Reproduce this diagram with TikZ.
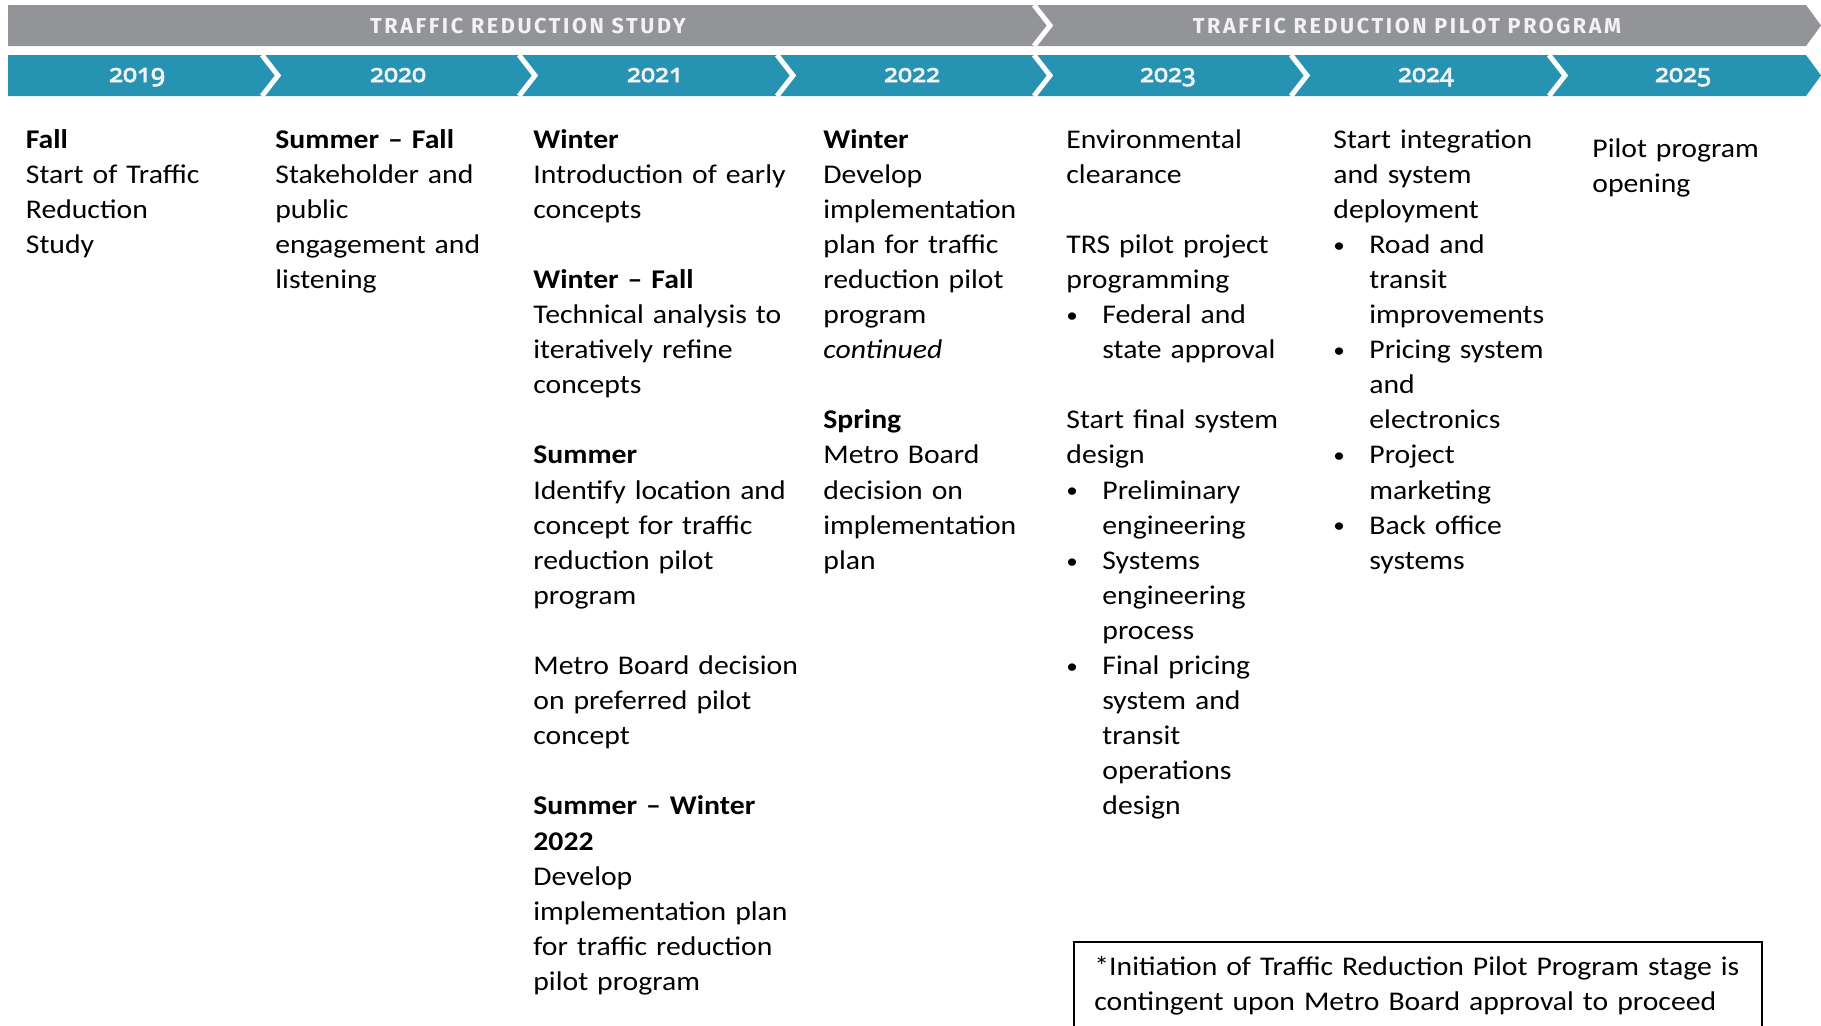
\documentclass[tikz,border=0pt]{standalone}
\usepackage{fontspec}
\setmainfont{Carlito}[FakeStretch=1.1]
\newfontfamily\barfont{Fira Sans}
\newfontfamily\yearfont{Noto Sans}[Numbers=OldStyle,FakeBold=2.6]
\definecolor{phasegray}{RGB}{147,148,151}
\definecolor{yearteal}{RGB}{38,147,178}
\newcommand\tbul{\makebox[18pt][l]{\raisebox{0.6pt}{\fontsize{10.5}{10.5}\selectfont\textbullet}}}
\newcommand\tind{\hspace*{18pt}}
\tikzset{
  sepline/.style={white,line width=2.5pt},
  phaselabel/.style={anchor=base,inner sep=0pt,text=white!95!black,font=\barfont\bfseries\fontsize{10.8}{10.8}\selectfont\addfontfeature{LetterSpace=12}},
  yearlabel/.style={anchor=base,inner sep=0pt,text=white!95!black,font=\yearfont\fontsize{12.8}{12.8}\selectfont},
  coltext/.style={anchor=base west,inner sep=0pt,text width=150pt,align=left,font=\fontsize{13.5}{17.55}\selectfont}
}
\begin{document}
\begin{tikzpicture}[x=0.5pt,y=-0.5pt]
   \useasboundingbox (0,0) rectangle (1821,1025);
   \fill [phasegray] (8,5) -- (1806,5) -- (1821,25.5) -- (1806,46) -- (8,46) -- cycle;
   \draw [sepline] (1034,5) -- (1050,25.5) -- (1034,46);
   \fill [yearteal] (8,55) -- (1806,55) -- (1821,75.5) -- (1806,96) -- (8,96) -- cycle;
   \draw [sepline] (262,55) -- (278,75.5) -- (262,96);
   \draw [sepline] (519,55) -- (535,75.5) -- (519,96);
   \draw [sepline] (777,55) -- (793,75.5) -- (777,96);
   \draw [sepline] (1034,55) -- (1050,75.5) -- (1034,96);
   \draw [sepline] (1291,55) -- (1307,75.5) -- (1291,96);
   \draw [sepline] (1549,55) -- (1565,75.5) -- (1549,96);
   \node [phaselabel] (study) at (528,33) {TRAFFIC REDUCTION STUDY};
   \node [phaselabel] (pilot) at (1407,33) {TRAFFIC REDUCTION PILOT PROGRAM};
   \node [yearlabel] (y2019) at (137,82) {2019};
   \node [yearlabel] (y2020) at (398,82) {2020};
   \node [yearlabel] (y2021) at (655,82) {2021};
   \node [yearlabel] (y2022) at (912,82) {2022};
   \node [yearlabel] (y2023) at (1168,82) {2023};
   \node [yearlabel] (y2024) at (1426,82) {2024};
   \node [yearlabel] (y2025) at (1683,82) {2025};
   \node [coltext] (c2019) at (25.5,148) {\textbf{Fall}\\Start of Traffic\\Reduction\\Study};
   \node [coltext] (c2020) at (275,148) {\textbf{Summer – Fall}\\Stakeholder and\\public\\engagement and\\listening};
   \node [coltext] (c2021) at (533,148) {\textbf{Winter}\\Introduction of early\\concepts\\[17.55pt]
      \textbf{Winter – Fall}\\Technical analysis to\\iteratively refine\\concepts\\[17.55pt]
      \textbf{Summer}\\Identify location and\\concept for traffic\\reduction pilot\\program\\[17.55pt]
      Metro Board decision\\on preferred pilot\\concept\\[17.55pt]
      \textbf{Summer – Winter}\\\textbf{2022}\\Develop\\implementation plan\\for traffic reduction\\pilot program};
   \node [coltext] (c2022) at (823,148) {\textbf{Winter}\\Develop\\implementation\\plan for traffic\\reduction pilot\\program\\\textit{continued}\\[17.55pt]
      \textbf{Spring}\\Metro Board\\decision on\\implementation\\plan};
   \node [coltext] (c2023) at (1066,148) {Environmental\\clearance\\[17.55pt]
      TRS pilot project\\programming\\
      \tbul Federal and\\\tind state approval\\[17.55pt]
      Start final system\\design\\
      \tbul Preliminary\\\tind engineering\\
      \tbul Systems\\\tind engineering\\\tind process\\
      \tbul Final pricing\\\tind system and\\\tind transit\\\tind operations\\\tind design};
   \node [coltext] (c2024) at (1333,148) {Start integration\\and system\\deployment\\
      \tbul Road and\\\tind transit\\\tind improvements\\
      \tbul Pricing system\\\tind and\\\tind electronics\\
      \tbul Project\\\tind marketing\\
      \tbul Back office\\\tind systems};
   \node [coltext] (c2025) at (1592,157) {Pilot program\\opening};
   \draw [black,line width=1pt] (1074,942) rectangle (1762,1040);
   \node [coltext,text width=340pt] (note) at (1094,975) {*Initiation of Traffic Reduction Pilot Program stage is\\contingent upon Metro Board approval to proceed};
  \end{tikzpicture}
\end{document}
